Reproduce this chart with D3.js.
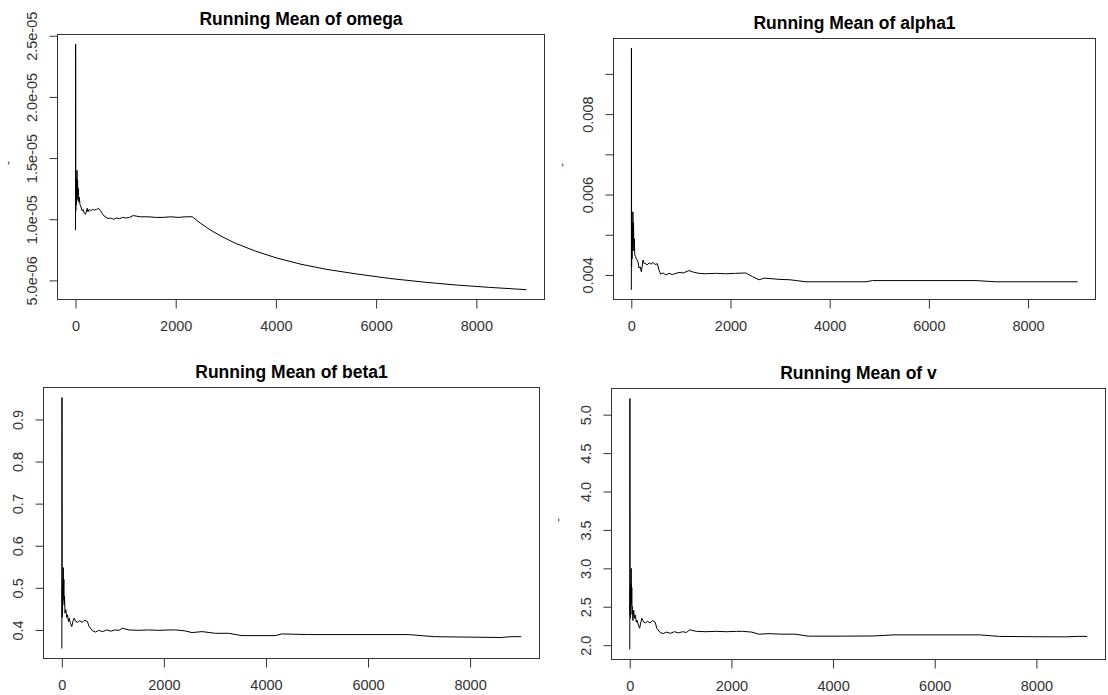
<!doctype html>
<html lang="en">
<head>
<meta charset="utf-8">
<title>Running Mean</title>
<script src="https://cdn.jsdelivr.net/npm/d3@7"></script>
<style>
  body { margin: 0; background: #fff; }
  svg { display: block; font-family: "Liberation Sans", Arial, sans-serif; }
  .tick text { fill: #333; font-size: 14.5px; }
  .tick line { stroke: #333; }
  .title { font-weight: bold; font-size: 17.5px; fill: #000; }
</style>
</head>
<body>
<svg id="chart" width="1108" height="695"></svg>
<script>
// iteration ticks shared by every panel
var iterTicks = [0, 2000, 4000, 6000, 8000];

// running means: [iteration, value]
var omega = [
  [1, 9.1e-6], [3, 2.43e-5], [6, 1.07e-5], [10, 1.25e-5], [14, 1.12e-5], [20, 1.33e-5],
  [25, 1.15e-5], [30, 1.40e-5], [36, 1.20e-5], [42, 1.32e-5], [50, 1.16e-5], [58, 1.25e-5],
  [66, 1.14e-5], [75, 1.18e-5], [90, 1.12e-5], [110, 1.10e-5], [130, 1.07e-5], [150, 1.08e-5],
  [175, 1.05e-5], [200, 1.04e-5], [215, 1.06e-5], [235, 1.09e-5], [250, 1.06e-5], [270, 1.08e-5],
  [300, 1.07e-5], [340, 1.08e-5], [380, 1.075e-5], [420, 1.08e-5], [460, 1.09e-5], [500, 1.07e-5],
  [530, 1.05e-5], [560, 1.03e-5], [600, 1.02e-5], [650, 1.005e-5], [700, 1.01e-5], [760, 1.0e-5],
  [820, 1.01e-5], [880, 1.005e-5], [940, 1.015e-5], [1000, 1.01e-5], [1080, 1.015e-5], [1150, 1.03e-5],
  [1220, 1.025e-5], [1300, 1.02e-5], [1450, 1.02e-5], [1600, 1.015e-5], [1750, 1.015e-5], [1900, 1.02e-5],
  [2050, 1.015e-5], [2200, 1.02e-5], [2330, 1.02e-5], [2500, 9.66e-6], [2700, 9.1e-6], [2944, 8.53e-6],
  [3200, 8.02e-6], [3600, 7.38e-6], [4000, 6.85e-6], [4500, 6.32e-6], [5000, 5.91e-6], [5600, 5.53e-6],
  [6265, 5.16e-6], [7000, 4.84e-6], [7600, 4.62e-6], [8258, 4.43e-6], [9000, 4.24e-6]
];

var alpha1 = [
  [1, 0.00363], [3, 0.00964], [6, 0.0042], [10, 0.0050], [14, 0.0044], [20, 0.0053],
  [26, 0.0046], [32, 0.00557], [38, 0.0048], [45, 0.0053], [52, 0.0046], [60, 0.0049],
  [70, 0.0045], [87, 0.00446], [100, 0.0044], [121, 0.00437], [140, 0.0043], [155, 0.00417],
  [180, 0.0042], [202, 0.00408], [218, 0.0042], [235, 0.00437], [256, 0.00429], [289, 0.00428],
  [320, 0.00425], [360, 0.0043], [400, 0.00427], [440, 0.00431], [480, 0.00426], [525, 0.00428],
  [558, 0.00412], [592, 0.00402], [640, 0.00405], [700, 0.004], [760, 0.00404], [827, 0.00401],
  [900, 0.00404], [962, 0.00406], [1050, 0.00405], [1164, 0.00411], [1250, 0.00407], [1366, 0.00404],
  [1500, 0.00403], [1700, 0.00404], [1900, 0.00403], [2100, 0.00404], [2307, 0.00405], [2442, 0.00396],
  [2577, 0.00388], [2677, 0.00392], [2800, 0.00391], [2980, 0.00389], [3200, 0.00388], [3518, 0.00383],
  [4000, 0.00383], [4729, 0.00383], [4864, 0.00386], [5500, 0.00386], [6949, 0.00386], [7353, 0.00383],
  [9000, 0.00383]
];

var beta1 = [
  [1, 0.356], [3, 0.952], [6, 0.43], [10, 0.50], [14, 0.44], [19, 0.52], [24, 0.47], [28, 0.548],
  [34, 0.48], [40, 0.52], [46, 0.46], [53, 0.48], [62, 0.44], [79, 0.448], [95, 0.43], [111, 0.436],
  [130, 0.42], [144, 0.428], [170, 0.415], [196, 0.408], [215, 0.42], [242, 0.428], [274, 0.42],
  [310, 0.418], [350, 0.422], [400, 0.418], [450, 0.423], [502, 0.42], [535, 0.408], [600, 0.398],
  [660, 0.395], [720, 0.399], [800, 0.396], [880, 0.4], [960, 0.397], [1040, 0.4], [1120, 0.399],
  [1186, 0.404], [1316, 0.4], [1500, 0.399], [1700, 0.4], [1900, 0.399], [2100, 0.4], [2227, 0.4],
  [2400, 0.398], [2553, 0.3937], [2748, 0.396], [3008, 0.392], [3269, 0.392], [3529, 0.3865],
  [4180, 0.3865], [4311, 0.3905], [4832, 0.389], [6785, 0.389], [7305, 0.384], [7956, 0.383],
  [8607, 0.382], [8800, 0.384], [9000, 0.384]
];

var v = [
  [1, 1.944], [3, 5.21], [6, 2.4], [10, 2.7], [14, 2.35], [19, 2.8], [24, 2.5], [28, 3.0],
  [34, 2.55], [40, 2.75], [46, 2.4], [52, 2.5], [62, 2.32], [78, 2.455], [95, 2.35], [111, 2.39],
  [130, 2.3], [143, 2.325], [170, 2.26], [195, 2.22], [215, 2.29], [240, 2.35], [273, 2.3],
  [310, 2.29], [350, 2.31], [400, 2.29], [450, 2.32], [500, 2.3], [532, 2.22], [597, 2.165],
  [660, 2.15], [720, 2.17], [800, 2.155], [880, 2.175], [960, 2.16], [1040, 2.175], [1115, 2.165],
  [1180, 2.2], [1310, 2.18], [1500, 2.175], [1700, 2.18], [1900, 2.175], [2100, 2.18], [2217, 2.18],
  [2400, 2.17], [2541, 2.143], [2736, 2.15], [2995, 2.143], [3254, 2.143], [3514, 2.117],
  [4162, 2.117], [4810, 2.12], [5199, 2.134], [6884, 2.134], [7273, 2.114], [7921, 2.11],
  [8569, 2.108], [8800, 2.114], [9000, 2.114]
];

// y ticks and their labels (R drops some labels when they would overlap)
var omegaTicks = [5e-6, 1e-5, 1.5e-5, 2e-5, 2.5e-5];
var omegaLabels = ["5.0e-06", "1.0e-05", "1.5e-05", "2.0e-05", "2.5e-05"];
var alphaTicks = [0.004, 0.005, 0.006, 0.007, 0.008, 0.009];
var alphaLabels = ["0.004", "", "0.006", "", "0.008", ""];
var betaTicks = [0.4, 0.5, 0.6, 0.7, 0.8, 0.9];
var betaLabels = ["0.4", "0.5", "0.6", "0.7", "0.8", "0.9"];
var vTicks = [2.0, 2.5, 3.0, 3.5, 4.0, 4.5, 5.0];
var vLabels = ["2.0", "2.5", "3.0", "3.5", "4.0", "4.5", "5.0"];

var panels = [
  { name: "omega", data: omega, ticks: omegaTicks, labels: omegaLabels,
    box: [57.5, 34.5, 544.5, 299.5], mark: [11.5, 163] },
  { name: "alpha1", data: alpha1, ticks: alphaTicks, labels: alphaLabels,
    box: [613.5, 38.5, 1095.5, 299.5], mark: [565.5, 165] },
  { name: "beta1", data: beta1, ticks: betaTicks, labels: betaLabels,
    box: [43.5, 387.5, 539.5, 658.5], mark: null },
  { name: "v", data: v, ticks: vTicks, labels: vLabels,
    box: [611.5, 388.5, 1105.5, 659.5], mark: [561.5, 520] }
];

var svg = d3.select("#chart");

// R style 4% padding around the data range
function pad(ext) {
  var r = ext[1] - ext[0];
  return [ext[0] - 0.04 * r, ext[1] + 0.04 * r];
}

panels.forEach(function(p) {
  var left = p.box[0], top = p.box[1], right = p.box[2], bottom = p.box[3];
  var g = svg.append("g");

  var x = d3.scaleLinear()
    .domain(pad(d3.extent(p.data, function(d) { return d[0]; })))
    .range([left, right]);
  var y = d3.scaleLinear()
    .domain(pad(d3.extent(p.data, function(d) { return d[1]; })))
    .range([bottom, top]);

  var xAxis = g.append("g")
    .attr("transform", "translate(0," + bottom + ")")
    .call(d3.axisBottom(x).tickValues(iterTicks).tickSize(9).tickFormat(d3.format("d")));
  xAxis.select(".domain").remove();
  xAxis.selectAll("text").attr("y", 31).attr("dy", 0);

  var yAxis = g.append("g")
    .attr("transform", "translate(" + left + ",0)")
    .call(d3.axisLeft(y).tickValues(p.ticks).tickSize(8)
      .tickFormat(function(d, i) { return p.labels[i]; }));
  yAxis.select(".domain").remove();
  yAxis.selectAll("text")
    .attr("x", 0).attr("dy", 0)
    .attr("text-anchor", "middle")
    .attr("transform", "translate(-20.5,0) rotate(-90)");
  g.selectAll("g").attr("font-family", null).attr("font-size", null);
  g.selectAll(".tick text").attr("fill", null);

  g.append("path")
    .datum(p.data)
    .attr("fill", "none")
    .attr("stroke", "#000")
    .attr("stroke-width", 1)
    .attr("d", d3.line().x(function(d) { return x(d[0]); }).y(function(d) { return y(d[1]); }));

  g.append("rect")
    .attr("x", left).attr("y", top)
    .attr("width", right - left).attr("height", bottom - top)
    .attr("fill", "none").attr("stroke", "#333").attr("stroke-width", 1);

  g.append("text")
    .attr("class", "title")
    .attr("x", (left + right) / 2)
    .attr("y", top - 10)
    .attr("text-anchor", "middle")
    .text("Running Mean of " + p.name);

  // tiny blue y label left of the axis
  if (p.mark) {
    g.append("text")
      .attr("transform", "translate(" + p.mark[0] + "," + p.mark[1] + ") rotate(-90)")
      .attr("text-anchor", "middle")
      .attr("font-size", 12)
      .attr("fill", "#1a3f9a")
      .text("-");
  }
});
</script>
</body>
</html>
